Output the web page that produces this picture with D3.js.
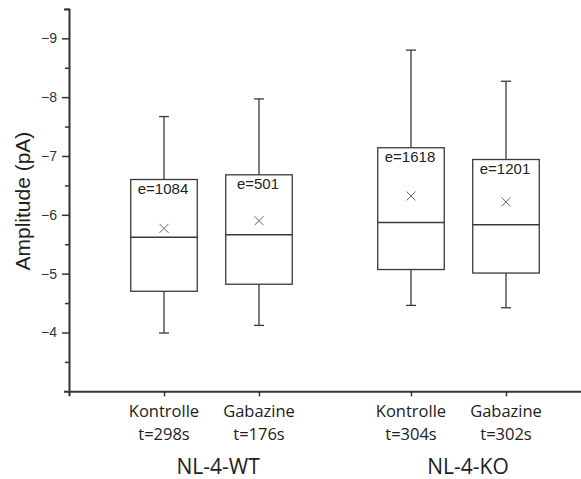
<!DOCTYPE html>
<html>
<head>
<meta charset="utf-8">
<script src="https://cdn.jsdelivr.net/npm/d3@7"></script>
<style>
  html, body { margin: 0; padding: 0; background: #fff; }
  svg { display: block; }
</style>
</head>
<body>
<svg id="chart" width="581" height="479"></svg>
<script>
// Amplitude distributions per condition (pA)
const conditions   = ["Kontrolle", "Gabazine", "Kontrolle", "Gabazine"];
const durations    = ["t=298s", "t=176s", "t=304s", "t=302s"];
const positions    = [1, 2, 3.6, 4.6];
const groups       = ["NL-4-WT", "NL-4-KO"];
const groupCenters = [1.57, 4.2];

const whiskerLow  = [-3.99, -4.12, -4.46, -4.42];
const q1          = [-4.70, -4.82, -5.07, -5.01];
const median      = [-5.62, -5.66, -5.87, -5.83];
const q3          = [-6.60, -6.68, -7.14, -6.94];
const whiskerHigh = [-7.67, -7.97, -8.80, -8.27];
const mean        = [-5.77, -5.90, -6.32, -6.22];
const eventLabels = ["e=1084", "e=501", "e=1618", "e=1201"];

const yMajorTicks = [-4, -5, -6, -7, -8, -9];
const yMinorTicks = [-3.5, -4.5, -5.5, -6.5, -7.5, -8.5, -9.5];

const svg = d3.select("#chart");
const axisColor = "#333";
const lineColor = "#3a3a3a";

const x = d3.scaleLinear().domain([0, 5.4]).range([69, 582]);
const y = d3.scaleLinear().domain([-3, -9.5]).range([391.3, 8.9]);

const boxWidth = 0.70;   // in x units
const capHalf = 5;       // px

// Boxes
const data = positions.map((p, i) => ({
  p, lo: whiskerLow[i], q1: q1[i], med: median[i], q3: q3[i],
  hi: whiskerHigh[i], mean: mean[i], label: eventLabels[i]
}));

const g = svg.append("g");
const box = g.selectAll("g.box").data(data).join("g").attr("class", "box");

// whiskers
box.append("line")
  .attr("x1", d => x(d.p)).attr("x2", d => x(d.p))
  .attr("y1", d => y(d.q3)).attr("y2", d => y(d.hi))
  .attr("stroke", lineColor).attr("stroke-width", 1.3);
box.append("line")
  .attr("x1", d => x(d.p)).attr("x2", d => x(d.p))
  .attr("y1", d => y(d.q1)).attr("y2", d => y(d.lo))
  .attr("stroke", lineColor).attr("stroke-width", 1.3);
// caps
box.append("line")
  .attr("x1", d => x(d.p) - capHalf).attr("x2", d => x(d.p) + capHalf)
  .attr("y1", d => y(d.hi)).attr("y2", d => y(d.hi))
  .attr("stroke", lineColor).attr("stroke-width", 1.3);
box.append("line")
  .attr("x1", d => x(d.p) - capHalf).attr("x2", d => x(d.p) + capHalf)
  .attr("y1", d => y(d.lo)).attr("y2", d => y(d.lo))
  .attr("stroke", lineColor).attr("stroke-width", 1.3);
// box body
box.append("rect")
  .attr("x", d => x(d.p - boxWidth / 2))
  .attr("width", d => x(d.p + boxWidth / 2) - x(d.p - boxWidth / 2))
  .attr("y", d => y(d.q3))
  .attr("height", d => y(d.q1) - y(d.q3))
  .attr("fill", "none").attr("stroke", lineColor).attr("stroke-width", 1.3);
// median
box.append("line")
  .attr("x1", d => x(d.p - boxWidth / 2)).attr("x2", d => x(d.p + boxWidth / 2))
  .attr("y1", d => y(d.med)).attr("y2", d => y(d.med))
  .attr("stroke", lineColor).attr("stroke-width", 1.5);
// mean marker (×)
const mk = 4.5;
box.append("path")
  .attr("d", d => {
    const cx = x(d.p), cy = y(d.mean);
    return `M${cx - mk},${cy - mk}L${cx + mk},${cy + mk}M${cx - mk},${cy + mk}L${cx + mk},${cy - mk}`;
  })
  .attr("stroke", "#666").attr("stroke-width", 1).attr("fill", "none");
// event count labels
box.append("text")
  .attr("x", d => x(d.p) - 1)
  .attr("y", d => y(d.q3) + 14)
  .attr("text-anchor", "middle")
  .attr("font-family", "Liberation Sans, Arial, sans-serif")
  .attr("font-size", 15)
  .attr("fill", "#222")
  .text(d => d.label);

// Y axis
const yAxis = svg.append("g")
  .attr("transform", `translate(${x(0)},0)`)
  .call(d3.axisLeft(y).tickValues(yMajorTicks).tickSize(7).tickSizeOuter(5).tickPadding(5)
    .tickFormat(d3.format("d")));
yAxis.selectAll("text")
  .attr("font-family", "Liberation Sans, Arial, sans-serif")
  .attr("font-size", 14).attr("fill", "#333");
svg.append("g")
  .attr("transform", `translate(${x(0)},0)`)
  .call(d3.axisLeft(y).tickValues(yMinorTicks).tickSize(4).tickSizeOuter(0).tickFormat(""))
  .call(s => s.select(".domain").remove());

// X axis
svg.append("g")
  .attr("transform", `translate(0,${y(-3)})`)
  .call(d3.axisBottom(x).tickValues(positions).tickSize(5).tickSizeOuter(5).tickFormat(""));

svg.selectAll(".domain").attr("stroke", axisColor).attr("stroke-width", 2);
svg.selectAll(".tick line").attr("stroke", axisColor).attr("stroke-width", 1.5);

// Category labels (two lines)
const catFont = "Open Sans, sans-serif";
const catSize = 16.5;
svg.append("g").selectAll("text").data(positions).join("text")
  .attr("x", d => x(d))
  .attr("y", 417)
  .attr("text-anchor", "middle")
  .attr("font-family", catFont).attr("font-size", catSize).attr("fill", "#222")
  .text((d, i) => conditions[i]);
svg.append("g").selectAll("text").data(positions).join("text")
  .attr("x", d => x(d))
  .attr("y", 439.6)
  .attr("text-anchor", "middle")
  .attr("font-family", catFont).attr("font-size", catSize).attr("fill", "#222")
  .text((d, i) => durations[i]);

// Group labels
svg.append("g").selectAll("text").data(groupCenters).join("text")
  .attr("x", d => x(d))
  .attr("y", 474)
  .attr("text-anchor", "middle")
  .attr("font-family", catFont).attr("font-size", 21).attr("fill", "#222")
  .text((d, i) => groups[i]);

// Y axis title
svg.append("text")
  .attr("transform", `translate(30,${(y(-9.5) + y(-3)) / 2 + 1}) rotate(-90)`)
  .attr("text-anchor", "middle")
  .attr("font-family", "Liberation Sans, Arial, sans-serif")
  .attr("font-size", 21).attr("fill", "#222")
  .text("Amplitude (pA)");
</script>
</body>
</html>
